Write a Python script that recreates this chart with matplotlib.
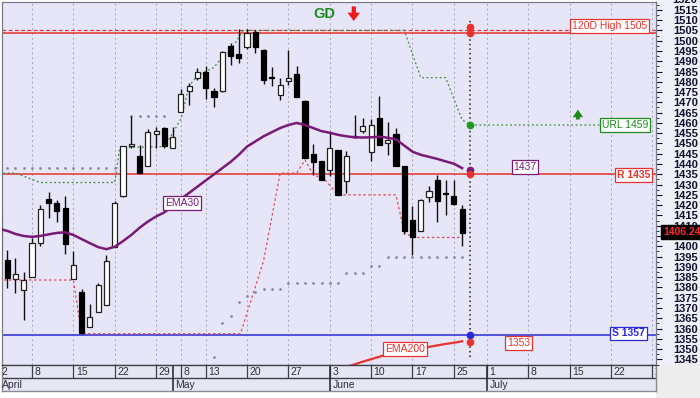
import matplotlib
matplotlib.use('Agg')
import matplotlib.pyplot as plt
from matplotlib import font_manager
from matplotlib.patches import Rectangle, FancyArrowPatch
from matplotlib.transforms import blended_transform_factory
import numpy as np


def pick(fams):
    for f in fams:
        try:
            font_manager.findfont(font_manager.FontProperties(family=f), fallback_to_default=False)
            return f
        except Exception:
            continue
    return 'DejaVu Sans'


SANS = pick(['Liberation Sans', 'Arial', 'DejaVu Sans'])
NARROW = pick(['Liberation Sans Narrow', 'Liberation Sans', 'DejaVu Sans'])
plt.rcParams['font.family'] = [SANS, 'DejaVu Sans']

# ---------------- data (trading-day index based) ----------------
opens = [1395, 1393.4, 1384, 1378.5, 1385.3, 1401.8, 1423, 1421, 1418.6, 1384, 1378, 1360.9, 1368.2, 1371.5,
         1399.6, 1424.3, 1449, 1444, 1439.2, 1454.8, 1457.6, 1447.8, 1465.2, 1475.4, 1481.6, 1484.7, 1475.3,
         1475.4, 1497.3, 1493.6, 1497, 1504.2, 1495.4, 1482.3, 1473.8, 1480.3, 1483.6, 1470.6, 1445, 1441.3,
         1437.3, 1446.7, 1431.6, 1453.8, 1455.9, 1445.7, 1462.5, 1450.3, 1454.8, 1438.9, 1412.9, 1407.2, 1424.2,
         1432.4, 1425.6, 1424.3, 1418.1]
closes = [1418.5, 1384.6, 1386.6, 1383.7, 1401.5, 1418.1, 1421, 1417.3, 1401, 1391, 1357.7, 1365.5, 1381.2,
          1392.9, 1421, 1448.6, 1449.8, 1435.6, 1455.4, 1456.3, 1449, 1453.2, 1474.3, 1477.9, 1484.7, 1477,
          1472.5, 1494.4, 1492.5, 1491.5, 1503.5, 1497, 1481.1, 1481.8, 1478.2, 1482, 1472.5, 1443, 1440.8,
          1432.4, 1447.8, 1425.1, 1444.1, 1453.3, 1458.7, 1459.2, 1449.4, 1451.9, 1439.2, 1407.2, 1404.4,
          1422.6, 1426.7, 1422.2, 1425.2, 1420.7, 1406.24]
highs = [1419, 1398, 1394.4, 1387.7, 1404.1, 1420.2, 1426.2, 1422.6, 1424.3, 1397.5, 1379.1, 1372, 1382, 1395.8,
         1422, 1449, 1463.2, 1449.4, 1456.8, 1458, 1458, 1458, 1476.6, 1479.5, 1486.5, 1487.6, 1477, 1495, 1499,
         1505.5, 1505.5, 1505, 1496, 1487.1, 1482, 1495.7, 1487.6, 1471, 1449.9, 1441.5, 1455.9, 1447, 1446.2,
         1464, 1462.4, 1462, 1473, 1460.3, 1457.6, 1439, 1419.4, 1423, 1429.1, 1434.8, 1432.4, 1432.4, 1420.2]
lows = [1394, 1379.8, 1377.3, 1364.2, 1385.3, 1399.9, 1413.7, 1411.6, 1396.3, 1384, 1357.2, 1360.9, 1368.2,
        1371.5, 1399.6, 1424, 1448, 1435.6, 1439.2, 1447.8, 1447.8, 1447.8, 1465.2, 1468.5, 1481, 1471.7,
        1467.8, 1475, 1488.4, 1489.3, 1496, 1493.8, 1478.7, 1477.9, 1470.9, 1478.2, 1472.5, 1443, 1434.8,
        1432.4, 1434, 1425.1, 1425.9, 1452.5, 1455.1, 1441.3, 1449.4, 1444.6, 1439.2, 1406, 1395.8, 1407.2,
        1421.3, 1412, 1415.3, 1420.2, 1399.9]

ema30 = [1408.5, 1407.5, 1406, 1405, 1404.6, 1405, 1405.8, 1406.5, 1406.8, 1405.5, 1403.5, 1401.5, 1399.6,
         1398.6, 1399.8, 1402.5, 1405.5, 1409, 1412, 1414.5, 1416.5, 1419.5, 1423, 1426, 1429, 1432, 1435, 1438,
         1441, 1444.5, 1448.5, 1451, 1453.5, 1455.5, 1457.5, 1459, 1460, 1459, 1457.5, 1456, 1455.2, 1454.2,
         1453.5, 1453, 1452.9, 1453, 1453.3, 1452.8, 1452, 1449, 1446, 1444.5, 1443.5, 1442.5, 1441.3, 1440.2,
         1438]
ema200_x = [42, 43, 44, 45, 46, 47, 48, 49, 50, 51, 52, 53, 54, 55, 56]
ema200 = [1341.3, 1342.6, 1343.9, 1345.1, 1346.3, 1347.5, 1348.3, 1349, 1349.7, 1350.4, 1351.1, 1351.8,
          1352.5, 1353.1, 1353.8]

# upper trailing line (URL)
url_x = [0, 2, 5, 14, 14.6, 20, 21, 22, 23, 24, 25, 26, 27, 28, 29.5, 49, 51, 54, 56, 57, 73]
url_y = [1435.6, 1435.6, 1431, 1431, 1448, 1448.5, 1455, 1462, 1478, 1483, 1485, 1487, 1492, 1495, 1505,
         1505, 1482, 1482, 1461.5, 1459, 1459]
# lower trailing line
low_x = [0, 9, 10, 29.2, 32, 34, 36, 37, 38, 39.5, 41, 48, 49, 50, 56]
low_y = [1383.6, 1383.6, 1357.5, 1357.5, 1393, 1435.6, 1435.6, 1442, 1435, 1432, 1425, 1425, 1407, 1404.3,
         1404.3]
# parabolic-style dots
sar_x = list(range(1, 15)) + list(range(16, 21)) + list(range(26, 57))
sar_y = ([1438.1] * 14 + [1463.2] * 5 +
         [1346, 1362.8, 1366.1, 1372.8, 1376, 1378, 1379, 1379, 1379,
          1382.2, 1382.2, 1382.2, 1382.2, 1382.2, 1382.2, 1382.2,
          1387, 1387, 1387, 1390.5, 1390.5,
          1395, 1395, 1395, 1395, 1395, 1395, 1395, 1395, 1395, 1395])

high120 = 1505
high_solid = 1503.8
resist = 1435
support = 1357
last_price = 1406.24
marker_x = 57
marker_vals = [1506.6, 1503.7, 1459, 1437.3, 1435, 1357, 1353.5]

day_pos = [0, 4, 9, 14, 19, 22, 25, 30, 35, 40, 45, 50, 55, 59, 64, 69, 74, 79]
day_labels = ['2', '8', '15', '22', '29', '8', '13', '20', '27', '3', '10', '17', '25', '1', '8', '15', '22', '29']
month_pos = [0, 21, 40, 59]
month_labels = ['April', 'May', 'June', 'July']
price_ticks = list(range(1345, 1516, 5))

# ---------------- colours ----------------
RED = '#E8322C'
BLUE = '#2B2BD6'
GREEN = '#1B8A1B'
PURPLE = '#7A1A78'
BG = '#E6E6F8'

# ---------------- figure ----------------
W, H = 700.0, 398.0
fig = plt.figure(figsize=(7.0, 3.98), dpi=100)
fig.patch.set_facecolor('white')
L, R, T, B = 2, 656, 2, 365
ax = fig.add_axes([L / W, 1 - B / H, (R - L) / W, (B - T) / H])
axd = fig.add_axes([L / W, 1 - 391 / H, (R - L) / W, (391 - B) / H], sharex=ax)
fig.add_artist(Rectangle((R / W, 1 - B / H), 1 - R / W, B / H, transform=fig.transFigure,
                         fc='#EFEFF8', ec='none', zorder=-5))
fig.add_artist(Rectangle((R / W, 0), 1 - R / W, 1 - B / H, transform=fig.transFigure,
                         fc='#EDEDED', ec='none', zorder=-5))

XMIN, XMAX = 0.372, 79.44
YMIN, YMAX = 1342.27, 1518.8
ax.set_facecolor(BG)
ax.set_xlim(XMIN, XMAX)
ax.set_ylim(YMIN, YMAX)

for p in day_pos:
    ax.axvline(p, color='#A4A4B8', lw=0.7, ls=(0, (2, 3)), zorder=1)

# horizontal levels
ax.axhline(high120, color=RED, lw=0.9, ls=(0, (3, 2)), zorder=2)
ax.axhline(high_solid, color=RED, lw=1.1, zorder=2)
ax.axhline(resist, color=RED, lw=1.1, zorder=2)
ax.axhline(support, color=BLUE, lw=1.1, zorder=2)

# trailing lines and dots
ax.plot(url_x, url_y, color='#3C8C3C', lw=0.9, ls=(0, (1.5, 2)), zorder=3)
ax.plot(low_x, low_y, color='#E04A5A', lw=0.9, ls=(0, (2, 2)), zorder=3)
ax.plot(sar_x, sar_y, ls='none', marker='o', ms=1.0, color='#8A8AA0', zorder=3)

# EMAs
idx = np.arange(len(opens))
ax.plot(idx, ema30, color=PURPLE, lw=1.8, zorder=6)
ax.plot(ema200_x, ema200, color=RED, lw=1.6, zorder=6)

# candles
o = np.array(opens); c = np.array(closes); h = np.array(highs); l = np.array(lows)
up = c >= o
ax.vlines(idx, l, h, color='#101010', lw=1.0, zorder=4)
body_h = np.where(np.abs(c - o) < 0.5, 0.5, np.abs(c - o))
body_b = np.minimum(o, c)
ax.bar(idx[up], body_h[up], bottom=body_b[up], width=0.62, color='white', edgecolor='#202020', lw=0.9, zorder=5)
ax.bar(idx[~up], body_h[~up], bottom=body_b[~up], width=0.62, color='black', edgecolor='black', lw=0.9, zorder=5)

# vertical dotted marker line
ax.plot([marker_x, marker_x], [1346, 1510], color='#202020', lw=1.1, ls=(0, (1, 2)), zorder=6)
ax.plot([marker_x, marker_x], marker_vals[:2], color=RED, lw=2.0, zorder=7)
mcolors = [RED, RED, '#1E9A1E', PURPLE, RED, BLUE, RED]
for v, col in zip(marker_vals, mcolors):
    ax.plot(marker_x, v, 'o', ms=4.5, color=col, zorder=8)


def box(x, y, s, color, bold=False, fs=7.5):
    ax.text(x, y, s, color=color, fontsize=fs, fontweight='bold' if bold else 'normal', ha='center',
            va='center', zorder=9,
            bbox=dict(boxstyle='square,pad=0.18', fc='white', ec=color, lw=0.9))


box(73.8, 1507.3, '120D High 1505', RED)
box(75.7, 1458.9, 'URL 1459', GREEN)
box(76.7, 1434.6, 'R 1435', RED, bold=True)
box(76.1, 1357.6, 'S 1357', BLUE, bold=True)
box(63.6, 1438.5, '1437', PURPLE)
box(62.8, 1353.0, '1353', RED)
box(22.1, 1421.0, 'EMA30', PURPLE)
box(49.1, 1350.1, 'EMA200', RED)

ax.text(39.4, 1513.2, 'GD', color=GREEN, fontsize=10.5, fontweight='bold', ha='center', va='center', zorder=9)
ax.add_patch(FancyArrowPatch((42.9, 1518.0), (42.9, 1508.2),
                             arrowstyle='simple,head_width=0.9,head_length=0.6,tail_width=0.3',
                             mutation_scale=10, color='#F01818', lw=0, zorder=9))
ax.add_patch(FancyArrowPatch((70.0, 1460.3), (70.0, 1467.8),
                             arrowstyle='simple,head_width=0.75,head_length=0.55,tail_width=0.28',
                             mutation_scale=10, color='#1B8A1B', lw=0, zorder=9))

# right price axis
ax.yaxis.tick_right()
ax.set_yticks(price_ticks)
ax.set_yticklabels([str(v) for v in price_ticks])
ax.set_yticks(np.arange(1342.5, 1518.0, 5), minor=True)
ax.tick_params(axis='y', which='major', direction='out', length=4, width=0.8, pad=8.6, labelsize=8,
               colors='#12122E')
ax.tick_params(axis='y', which='minor', direction='out', length=2, width=0.6, colors='#12122E')
for lab in ax.get_yticklabels():
    lab.set_fontfamily(NARROW)
    lab.set_fontweight('bold')
ax.tick_params(axis='x', which='both', bottom=False, labelbottom=False)
for s in ax.spines.values():
    s.set_color('#7A7A8A')
    s.set_linewidth(0.9)

trans = blended_transform_factory(ax.transAxes, ax.transData)
ax.text((672 - L) / (R - L), 1520, '1520', transform=trans, ha='left', va='center', fontsize=8,
        fontweight='bold', family=NARROW, color='#12122E', clip_on=False)
ax.text((663 - L) / (R - L), last_price + 0.8, f'{last_price:.2f}', transform=trans, ha='left', va='center',
        fontsize=7.5, fontweight='bold', family=NARROW, color='#FF2A2A', clip_on=False, zorder=10,
        bbox=dict(boxstyle='square,pad=0.2', fc='black', ec='black'))

# date panel
axd.set_facecolor('#E6E6F4')
axd.set_ylim(0, 1)
axd.set_yticks([])
axd.tick_params(axis='x', which='both', bottom=False, labelbottom=False)
axd.axhline(0.5, color='#404048', lw=1.0)
axd.vlines(day_pos, 0.5, 1, color='#404048', lw=0.9)
axd.vlines(month_pos, 0, 1, color='#303038', lw=1.2)
for p, s in zip(day_pos, day_labels):
    axd.text(p + 0.3, 0.73, s, fontsize=7.5, color='#2E2E3A', ha='left', va='center', clip_on=True)
for p, s in zip(month_pos, month_labels):
    axd.text(p + 0.35, 0.23, s, fontsize=7.5, color='#2E2E3A', ha='left', va='center', clip_on=True)
for k, s in axd.spines.items():
    s.set_color('#404048' if k == 'top' else '#8A8A96')
    s.set_linewidth(1.0)

fig.savefig('out.png', dpi=100, facecolor=fig.get_facecolor())
